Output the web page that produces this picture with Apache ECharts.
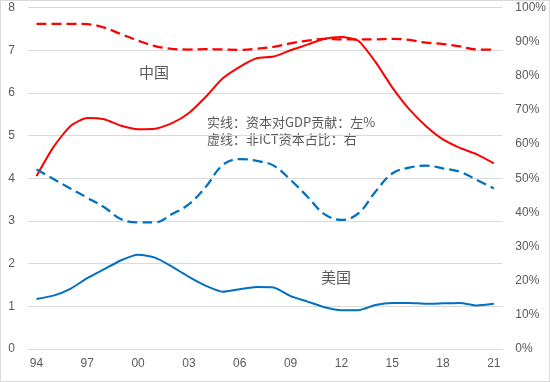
<!DOCTYPE html>
<html><head><meta charset="utf-8">
<script src="https://cdn.jsdelivr.net/npm/echarts@6/dist/echarts.min.js"></script>
<style>html,body{margin:0;padding:0;background:#fff}#c{width:548px;height:380px;border:1px solid #d9d9d9}</style>
</head><body><div id="c"></div>
<script>
var years = ['94','95','96','97','98','99','00','01','02','03','04','05','06','07','08','09','10','11','12','13','14','15','16','17','18','19','20','21'];
var chinaContribution = [4.05,4.73,5.22,5.41,5.38,5.23,5.15,5.16,5.29,5.53,5.91,6.34,6.61,6.81,6.85,7.0,7.13,7.27,7.31,7.22,6.73,6.13,5.62,5.22,4.91,4.71,4.56,4.35];
var chinaNonIctShare = [0.952,0.952,0.952,0.951,0.941,0.922,0.903,0.887,0.879,0.877,0.878,0.877,0.876,0.879,0.885,0.895,0.903,0.908,0.907,0.907,0.907,0.908,0.905,0.897,0.893,0.886,0.877,0.877];
var usContribution = [1.17,1.25,1.41,1.66,1.87,2.08,2.21,2.14,1.93,1.69,1.48,1.34,1.40,1.45,1.44,1.24,1.11,0.98,0.91,0.91,1.03,1.08,1.08,1.06,1.07,1.08,1.02,1.06];
var usNonIctShare = [0.526,0.498,0.470,0.443,0.415,0.380,0.371,0.371,0.395,0.424,0.475,0.539,0.556,0.551,0.537,0.495,0.446,0.395,0.378,0.397,0.460,0.514,0.531,0.537,0.529,0.519,0.495,0.470];
var leftTicks = {min:0, max:8, interval:1};
var rightTicks = {min:0, max:1, interval:0.1};

var chart = echarts.init(document.getElementById('c'));
var gray = '#595959';
var font = '"Noto Sans CJK SC", "Noto Sans", sans-serif';
chart.setOption({
  animation: false,
  grid: {left: 27, right: 42, top: 6.5, bottom: 32},
  xAxis: {
    type: 'category', data: years, boundaryGap: true,
    axisLine: {show: true, lineStyle: {color: '#d9d9d9'}},
    axisTick: {show: false},
    axisLabel: {interval: 2, color: gray, fontSize: 12, margin: 9, fontFamily: '"Liberation Sans", sans-serif'}
  },
  yAxis: [{
    type: 'value', min: leftTicks.min, max: leftTicks.max, interval: leftTicks.interval,
    axisLine: {show: false}, axisTick: {show: false},
    axisLabel: {color: gray, fontSize: 12, margin: 13, fontFamily: '"Liberation Sans", sans-serif'},
    splitLine: {lineStyle: {color: '#d9d9d9', width: 1}}
  }, {
    type: 'value', min: rightTicks.min, max: rightTicks.max, interval: rightTicks.interval, position: 'right',
    axisLine: {show: false}, axisTick: {show: false}, splitLine: {show: false},
    axisLabel: {color: gray, fontSize: 12, margin: 13, fontFamily: '"Liberation Sans", sans-serif',
      formatter: function(v){ return Math.round(v*100) + '%'; }}
  }],
  series: [
    {type: 'line', data: chinaContribution, yAxisIndex: 0, symbol: 'none', smooth: 0.2,
     lineStyle: {color: '#FF0000', width: 2}},
    {type: 'line', data: chinaNonIctShare, yAxisIndex: 1, symbol: 'none', smooth: 0.4,
     lineStyle: {color: '#FF0000', width: 2.25, type: [10, 5]}},
    {type: 'line', data: usContribution, yAxisIndex: 0, symbol: 'none', smooth: 0.2,
     lineStyle: {color: '#0070C0', width: 2}},
    {type: 'line', data: usNonIctShare, yAxisIndex: 1, symbol: 'none', smooth: 0.4,
     lineStyle: {color: '#0070C0', width: 2.25, type: [10, 5]}}
  ],
  graphic: [
    {type: 'text', left: 138, top: 64, style: {text: '中国', fill: gray, font: '15px ' + font}},
    {type: 'text', left: 320, top: 269, style: {text: '美国', fill: gray, font: '15px ' + font}},
    {type: 'text', left: 206, top: 115, style: {text: '实线：资本对GDP贡献：左%', fill: gray, font: '13px ' + font}},
    {type: 'text', left: 206, top: 132, style: {text: '虚线：非ICT资本占比：右', fill: gray, font: '13px ' + font}}
  ]
});
</script></body></html>
